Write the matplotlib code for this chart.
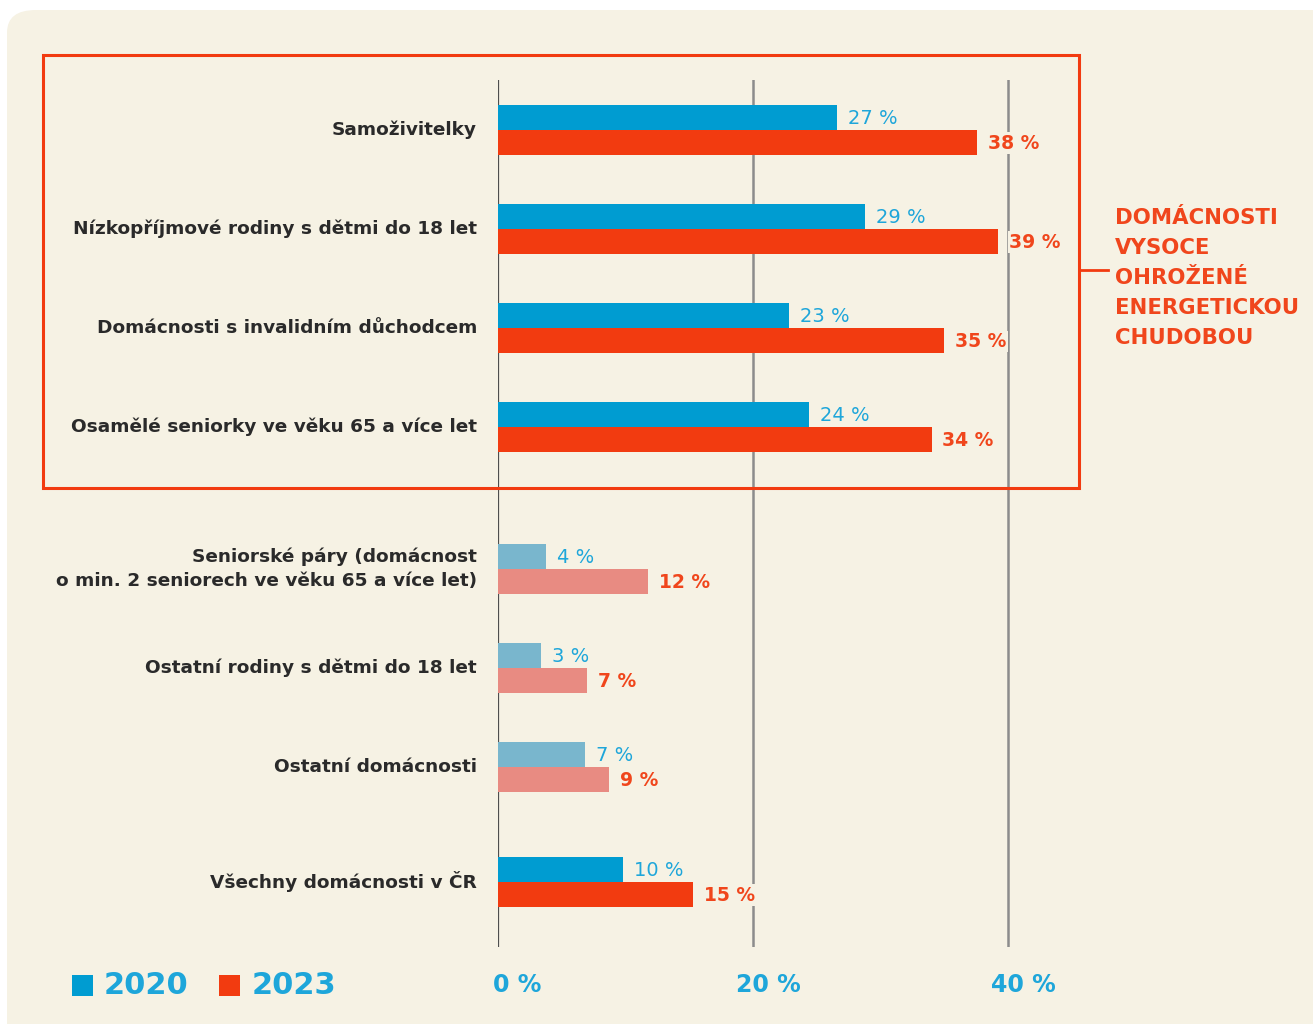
import matplotlib.pyplot as plt
from matplotlib.patches import FancyBboxPatch, Rectangle
from matplotlib.lines import Line2D

plt.rcParams['font.family'] = ['DejaVu Sans']

# ------------------------------
# Data (bar lengths, labels are rounded)
# ------------------------------
categories = [
    "Samoživitelky",
    "Nízkopříjmové rodiny s dětmi do 18 let",
    "Domácnosti s invalidním důchodcem",
    "Osamělé seniorky ve věku 65 a více let",
    "Seniorské páry (domácnost\no min. 2 seniorech ve věku 65 a více let)",
    "Ostatní rodiny s dětmi do 18 let",
    "Ostatní domácnosti",
    "Všechny domácnosti v ČR",
]
share_2020 = [26.6, 28.8, 22.8, 24.4, 3.8, 3.4, 6.8, 9.8]
share_2023 = [37.6, 39.2, 35.0, 34.0, 11.8, 7.0, 8.7, 15.3]
highlighted = [True, True, True, True, False, False, False, True]
years = ["2020", "2023"]
x_ticks = [0, 20, 40]
box_title = ["DOMÁCNOSTI", "VYSOCE", "OHROŽENÉ", "ENERGETICKOU", "CHUDOBOU"]

# ------------------------------
# Layout / styles (pixel based)
# ------------------------------
W, H = 1313, 1024
row_pos = [129.5, 228.5, 328, 427, 568.5, 667.5, 767, 881.5]
bar_h = 25
px_per_pct = 12.75

bg = '#f6f2e4'
blue = '#009cd1'
red = '#f23b10'
blue_light = '#79b6cd'
red_light = '#e88b82'
blue_txt = '#1ea6da'
red_txt = '#f0461c'
dark = '#2a2a2a'


def fx(px):
    return px / W


def fy(py):
    return 1 - py / H


fig = plt.figure(figsize=(W / 100, H / 100), dpi=100, facecolor='white')

# cream rounded background (only the top-left corner is visible)
fig.patches.append(FancyBboxPatch((fx(7), fy(1200)), fx(1500), 1190 / H,
                                  boxstyle="round,pad=0,rounding_size=0.022",
                                  transform=fig.transFigure, fc=bg, ec='none', zorder=-5))

ax = fig.add_axes([fx(498), fy(947), fx(1070 - 498), (947 - 80) / H])
ax.set_zorder(1)
ax.set_facecolor('none')
ax.set_xlim(0, (1070 - 498) / px_per_pct)
ax.set_ylim(947, 80)
ax.axis('off')

# gridlines
ax.axvline(0, color='#4e4e4e', lw=1.6, zorder=1)
for t in x_ticks[1:]:
    ax.axvline(t, color='#8c8c8c', lw=1.8, zorder=1)

lbl_off = 11 / px_per_pct
for i, cat in enumerate(categories):
    y = row_pos[i]
    cb = blue if highlighted[i] else blue_light
    cr = red if highlighted[i] else red_light
    ax.barh(y - bar_h / 2, share_2020[i], height=bar_h, color=cb, zorder=2)
    ax.barh(y + bar_h / 2, share_2023[i], height=bar_h, color=cr, zorder=2)
    ax.text(share_2020[i] + lbl_off, y - bar_h / 2 + 1, f"{round(share_2020[i])} %", ha='left', va='center',
            color=blue_txt, fontsize=14, fontweight='normal', zorder=3,
            bbox=dict(fc=bg, ec='none', pad=0.8))
    ax.text(share_2023[i] + lbl_off, y + bar_h / 2 + 1, f"{round(share_2023[i])} %", ha='left', va='center',
            color=red_txt, fontsize=13.5, fontweight='bold', zorder=3,
            bbox=dict(fc=bg, ec='none', pad=0.8))
    ax.text(-21 / px_per_pct, y, cat, ha='right', va='center', color=dark,
            fontsize=13.3, fontweight='bold', linespacing=1.4, clip_on=False)

# x tick labels
for t in x_ticks:
    ax.text(t + 19 / px_per_pct if t == 0 else t + 15 / px_per_pct, 985, f"{t} %",
            ha='center', va='center', color=blue_txt,
            fontsize=17, fontweight='bold', clip_on=False)

# highlight box + bracket
fig.patches.append(Rectangle((fx(43), fy(488)), fx(1079 - 43), (488 - 55) / H,
                             transform=fig.transFigure, fill=False, ec=red, lw=2.2, zorder=5))
fig.lines.append(Line2D([fx(1080), fx(1108)], [fy(270), fy(270)],
                        transform=fig.transFigure, color=red, lw=2))
for k, line in enumerate(box_title):
    fig.text(fx(1115), fy(218 + 30 * k), line, ha='left', va='center',
             color=red_txt, fontsize=15.3, fontweight='bold')

# legend
for (sx, tx), yr, c in zip([(72, 104), (219, 252)], years, [blue, red]):
    fig.patches.append(Rectangle((fx(sx), fy(996)), fx(21), 21 / H,
                                 transform=fig.transFigure, fc=c, ec='none'))
    fig.text(fx(tx), fy(985), yr, ha='left', va='center', color=blue_txt,
             fontsize=22, fontweight='bold')

fig.savefig('out.png', dpi=100, facecolor='white')
